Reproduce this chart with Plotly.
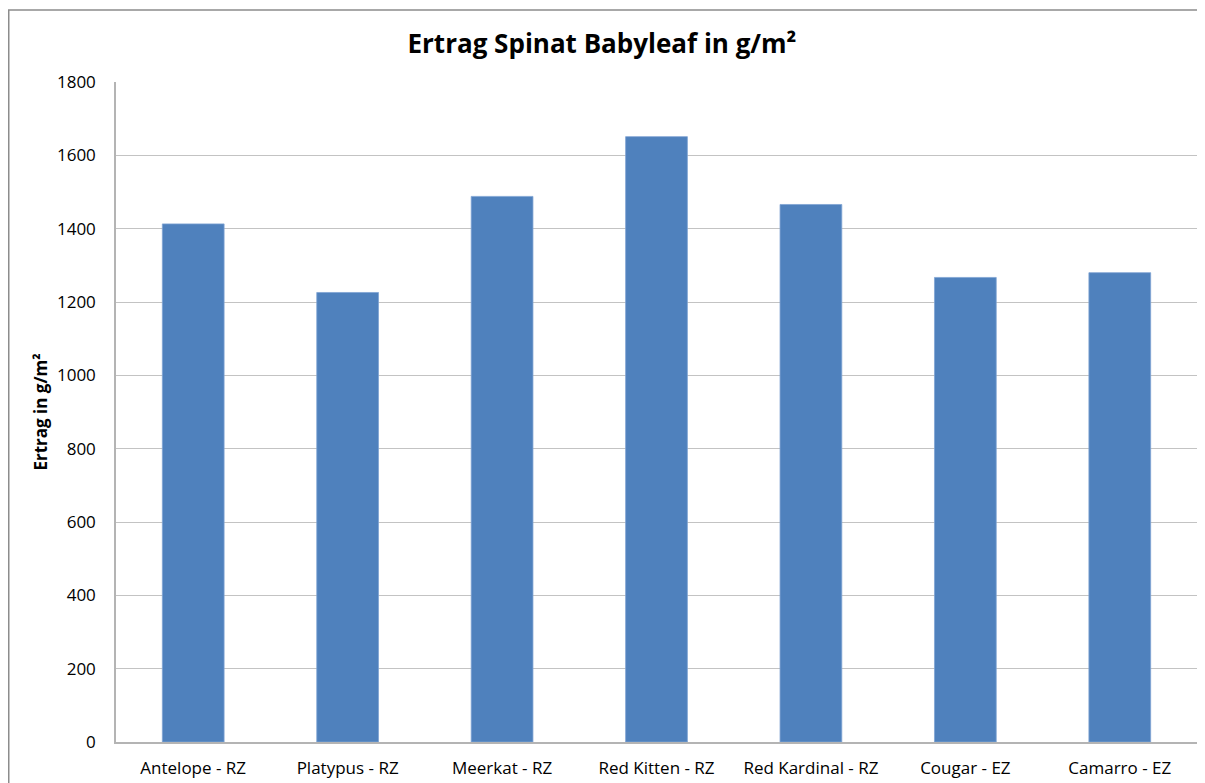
import plotly.graph_objects as go

categories = ["Antelope - RZ", "Platypus - RZ", "Meerkat - RZ", "Red Kitten - RZ",
              "Red Kardinal - RZ", "Cougar - EZ", "Camarro - EZ"]
values = [1413, 1226, 1488, 1651, 1466, 1267, 1280]
y_ticks = [0, 200, 400, 600, 800, 1000, 1200, 1400, 1600, 1800]

# page has an 8px body margin, so the figure starts at (8, 8)
W, H = 1189, 775
L, R, T, B = 108, 0, 74, 41
pw, ph = W - L - R, H - T - B

fig = go.Figure(go.Bar(
    x=categories, y=values, width=0.4,
    marker=dict(color="#4f81bd", line=dict(color="#7fa3d3", width=0.8)),
))

font = "'Open Sans', sans-serif"
fig.update_layout(
    width=W, height=H,
    margin=dict(l=L, r=R, t=T, b=B, autoexpand=False),
    paper_bgcolor="white", plot_bgcolor="white",
    showlegend=False,
    font=dict(family=font, color="#000000", size=17),
    title=dict(text="<b>Ertrag Spinat Babyleaf in g/m²</b>", x=594 / W, xanchor="center",
               xref="container", y=1 - 36 / H, yanchor="middle", font=dict(size=26, family=font)),
    bargap=0.6,
)
fig.update_xaxes(
    showline=True, linecolor="#b4b4b4", linewidth=1.5,
    ticks="", tickfont=dict(size=17), ticklabelstandoff=10,
    range=[-0.5, len(categories) - 0.5],
)
fig.update_yaxes(
    range=[0, 1800], tickvals=y_ticks, ticktext=[str(v) for v in y_ticks],
    showline=True, linecolor="#b4b4b4", linewidth=1.5,
    showgrid=True, gridcolor="#c3c3c3", gridwidth=1.3,
    zeroline=False, ticks="", tickfont=dict(size=17), ticklabelstandoff=15,
    title=dict(text="<b>Ertrag in g/m²</b>", font=dict(size=17), standoff=5),
)
# outer chart border
fig.add_shape(type="rect", xref="paper", yref="paper",
              x0=(0.75 - L) / pw, x1=1.05, y0=-0.2, y1=(H - B - 2) / ph,
              line=dict(color="#8c8c8c", width=1.5), layer="below")

fig.write_html("out.html")
